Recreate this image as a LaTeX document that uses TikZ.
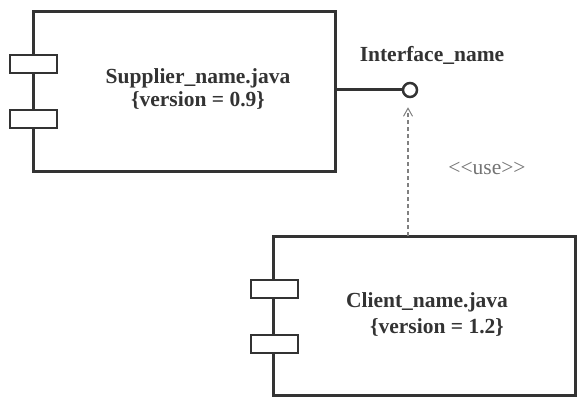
\documentclass[tikz,border=0pt]{standalone}
\usepackage{fontspec}
\setmainfont{Liberation Serif}[Ligatures=NoCommon]
\usetikzlibrary{arrows.meta}
\definecolor{ink}{HTML}{333333}
\definecolor{dashgrey}{HTML}{808080}
\begin{document}
\begin{tikzpicture}[x=1pt,y=-1pt,
  comp/.style={draw=ink, line width=3pt, minimum width=302pt, minimum height=159pt, inner sep=0pt},
  port/.style={draw=ink, fill=white, line width=2pt, minimum width=47pt, minimum height=18pt, inner sep=0pt},
  lbl/.style={text=ink, font=\fontsize{21.5}{24}\selectfont\bfseries, inner sep=0pt},
  stereo/.style={text=dashgrey!90!black, font=\fontsize{21.5}{24}\selectfont, inner sep=0pt},
  iface/.style={circle, draw=ink, line width=2.5pt, minimum size=14pt, inner sep=0pt, fill=white}]
\useasboundingbox (0,0) rectangle (585,409);
% supplier
\node[comp] (sup) at (184,91.5) {};
\node[port] (sp1) at (33,64) {};
\node[port] (sp2) at (33,119) {};
\node[lbl] (supn) at (198,78) {Supplier\_name.java};
\node[lbl] (supv) at (198,100) {\{version = 0.9\}};
% client
\node[comp] (cli) at (424,315.5) {};
\node[port] (cp1) at (274,288.5) {};
\node[port] (cp2) at (274,343.5) {};
\node[lbl] (clin) at (427,302) {Client\_name.java};
\node[lbl] (cliv) at (437,327) {\{version = 1.2\}};
% interface
\node[iface] (if) at (410,90) {};
\node[lbl] (ifn) at (432,55) {Interface\_name};
\draw[ink, line width=3pt] (sup.east |- if) -- (if.west);
\coordinate (cs) at (408,236);
\draw[dashgrey, line width=1.2pt, dash pattern=on 4pt off 3pt, shorten >=9pt, -{Straight Barb[length=8pt,width=9pt,line width=1pt]}] (cs) -- (cs |- if.south);
\node[stereo] (use) at (487,168) {{<}{<}use{>}{>}};
\end{tikzpicture}
\end{document}
